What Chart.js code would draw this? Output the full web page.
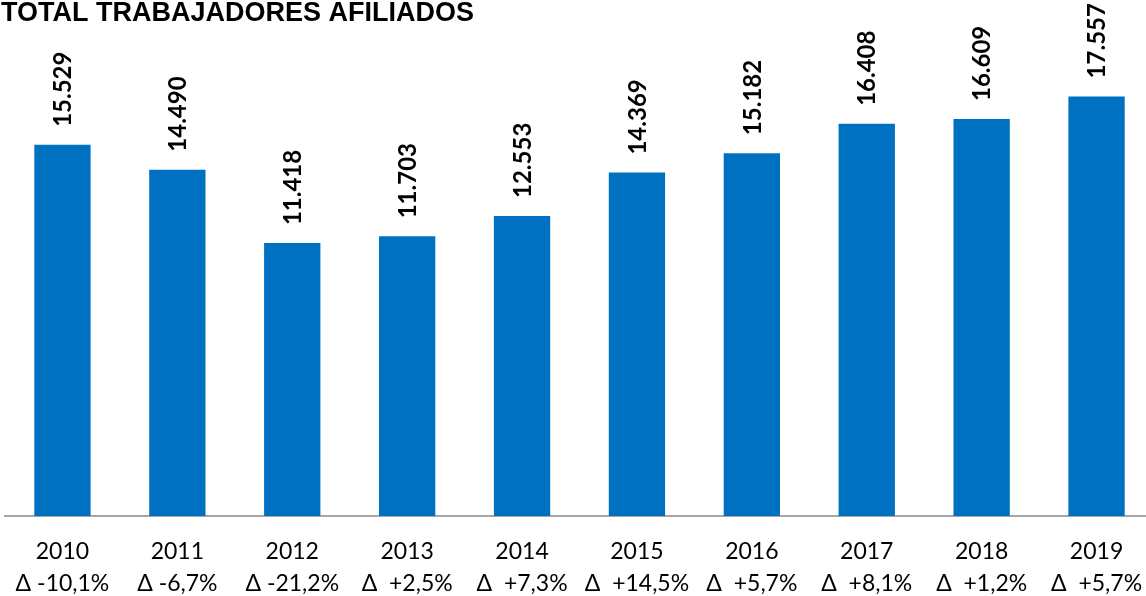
<!DOCTYPE html>
<html>
<head>
<meta charset="utf-8">
<script src="https://cdn.jsdelivr.net/npm/chart.js@4/dist/chart.umd.min.js"></script>
<style>
  html, body { margin: 0; padding: 0; background: #ffffff; overflow: hidden; width: 1146px; height: 596px; }
  #wrap { width: 1146px; height: 596px; position: relative; overflow: hidden; }
  #c { display: block; width: 1154px; height: 596px; }
</style>
</head>
<body>
<div id="wrap"><canvas id="c" width="1154" height="596"></canvas></div>
<script>
const chartTitle = 'TOTAL TRABAJADORES AFILIADOS';
const years = ['2010', '2011', '2012', '2013', '2014', '2015', '2016', '2017', '2018', '2019'];
const changes = ['Δ -10,1%', 'Δ -6,7%', 'Δ -21,2%', 'Δ  +2,5%', 'Δ  +7,3%', 'Δ  +14,5%', 'Δ  +5,7%', 'Δ  +8,1%', 'Δ  +1,2%', 'Δ  +5,7%'];
const afiliados = [15529, 14490, 11418, 11703, 12553, 14369, 15182, 16408, 16609, 17557];

function fmt(v) {
  return String(v).replace(/\B(?=(\d{3})+(?!\d))/g, '.');
}

const titlePlugin = {
  id: 'titlePlugin',
  afterDraw(chart) {
    const ctx = chart.ctx;
    ctx.save();
    ctx.fillStyle = '#000000';
    ctx.font = 'bold 27px "Liberation Sans", Arial, sans-serif';
    ctx.textAlign = 'left';
    ctx.textBaseline = 'alphabetic';
    ctx.fillText(chartTitle, 1, 21);
    ctx.restore();
  }
};

const valueLabels = {
  id: 'valueLabels',
  afterDatasetsDraw(chart) {
    const ctx = chart.ctx;
    const meta = chart.getDatasetMeta(0);
    ctx.save();
    ctx.fillStyle = '#000000';
    ctx.font = 'bold 24px Lato, "Open Sans", sans-serif';
    ctx.textAlign = 'left';
    ctx.textBaseline = 'middle';
    meta.data.forEach((bar, i) => {
      ctx.save();
      ctx.translate(bar.x + 1, bar.y - 18);
      ctx.rotate(-Math.PI / 2);
      ctx.fillText(fmt(chart.data.datasets[0].data[i]), 0, 0);
      ctx.restore();
    });
    ctx.restore();
  }
};

new Chart(document.getElementById('c'), {
  type: 'bar',
  data: {
    labels: years.map((y, i) => [y, changes[i]]),
    datasets: [{
      data: afiliados,
      backgroundColor: '#0070C0',
      borderWidth: 0,
      barPercentage: 0.49,
      categoryPercentage: 1.0
    }]
  },
  options: {
    responsive: false,
    maintainAspectRatio: false,
    animation: false,
    devicePixelRatio: 1,
    layout: { padding: { top: 38, left: 5, right: 0, bottom: 0 } },
    plugins: {
      legend: { display: false },
      tooltip: { enabled: false },
      title: { display: false }
    },
    scales: {
      x: {
        grid: {
          display: true,
          drawOnChartArea: false,
          drawTicks: true,
          tickLength: 19,
          tickColor: 'rgba(0,0,0,0)',
          color: 'rgba(0,0,0,0)'
        },
        border: { display: true, color: '#A6A6A6', width: 2 },
        ticks: {
          color: '#000000',
          font: { family: 'Lato, "Open Sans", sans-serif', size: 23, lineHeight: 1.4 },
          padding: 0,
          maxRotation: 0,
          autoSkip: false
        },
        afterFit(scale) { scale.height = 80; }
      },
      y: {
        display: false,
        min: 0,
        max: 20000
      }
    }
  },
  plugins: [titlePlugin, valueLabels]
});
</script>
</body>
</html>
